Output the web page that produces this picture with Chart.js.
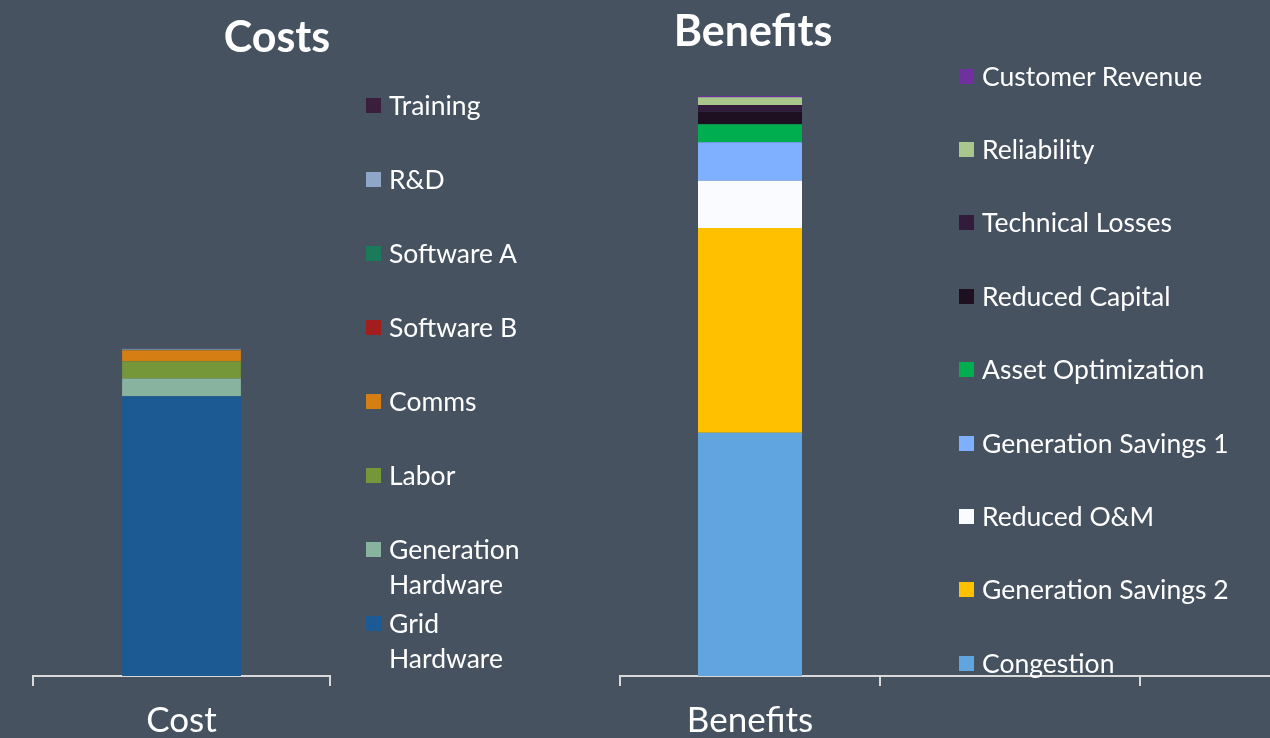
<!DOCTYPE html>
<html>
<head>
<meta charset="utf-8">
<title>Costs and Benefits</title>
<script src="https://cdn.jsdelivr.net/npm/chart.js@4.4.1/dist/chart.umd.min.js"></script>
<style>
  html, body {
    margin: 0;
    padding: 0;
    width: 1270px;
    height: 738px;
    overflow: hidden;
    background: #465260;
    font-family: Lato, "Open Sans", sans-serif;
  }
  canvas { position: absolute; top: 0; }
  #costsChart { left: 0; }
  #benefitsChart { left: 106px; }
  .legend { position: absolute; top: 0; color: #ffffff; font-size: 26.5px; }
  .legend-item { position: absolute; left: 0; display: flex; align-items: flex-start; line-height: 35px; }
  .legend-box { width: 15px; height: 15px; margin-top: 10px; margin-right: 8px; flex: none; }
  #costsLegend { left: 366px; }
  #costsLegend .legend-text { width: 150px; }
  #benefitsLegend { left: 959px; }
  #benefitsLegend .legend-text { white-space: nowrap; }
</style>
</head>
<body>
<canvas id="costsChart" width="554" height="756"></canvas>
<canvas id="benefitsChart" width="1294" height="756"></canvas>
<div id="costsLegend" class="legend"></div>
<div id="benefitsLegend" class="legend"></div>

<script>
// Costs (bottom of the stack first)
const costCategories = ["Cost"]
const costNames = ["Grid Hardware", "Generation Hardware", "Labor", "Comms", "Software B", "Software A", "R&D", "Training"]
const costValues = [28.03, 1.77, 1.73, 1.1, 0.03, 0.03, 0.08, 0.07]
const costColors = ["#1B5A93", "#87B39F", "#76963A", "#D47E14", "#A21D1D", "#1B7A5A", "#8EA6C8", "#3A1E3C"]

// Benefits (bottom of the stack first)
const benefitCategories = ["Benefits", "", ""]
const benefitNames = [
  "Congestion",
  "Generation Savings 2",
  "Reduced O&M",
  "Generation Savings 1",
  "Asset Optimization",
  "Reduced Capital",
  "Technical Losses",
  "Reliability",
  "Customer Revenue",
]
const benefitValues = [24.37, 20.5, 4.73, 3.87, 1.8, 1.26, 0.67, 0.77, 0.13]
const benefitColors = ["#60A5E0", "#FFC000", "#FAFBFF", "#7EB0FF", "#00AE4F", "#1E1020", "#321B3B", "#A9C68C", "#7030A0"]

const yMax = 60

const axisColor = "#D9D9D9"
const textColor = "#FFFFFF"
const fontFamily = "Lato, 'Open Sans', sans-serif"

function buildDatasets(names, values, colors) {
  return names.map((name, i) => ({
    label: name,
    data: [values[i]],
    backgroundColor: colors[i],
    borderWidth: 0,
    barPercentage: 0.4,
    categoryPercentage: 1,
  }))
}

// empty axis that only reserves room (left margin / legend space)
function spacerAxis(position, width) {
  return {
    type: "linear",
    display: width > 0,
    position: position,
    ticks: { display: false },
    grid: { display: false, drawTicks: false },
    border: { display: false },
    afterFit: (scale) => {
      scale.width = width
    },
  }
}

function buildChart(canvasId, categories, datasets, config) {
  const ctx = document.getElementById(canvasId).getContext("2d")
  return new Chart(ctx, {
    type: "bar",
    data: { labels: categories, datasets: datasets },
    options: {
      responsive: false,
      animation: false,
      layout: { padding: 0 },
      plugins: {
        legend: { display: false },
        tooltip: { enabled: false },
        title: {
          display: true,
          text: config.title,
          color: textColor,
          font: { family: fontFamily, size: 43, weight: "bold" },
          padding: config.titlePadding,
        },
      },
      scales: {
        x: {
          stacked: true,
          offset: true,
          grid: {
            display: true,
            offset: true,
            drawOnChartArea: false,
            drawTicks: true,
            tickLength: 10,
            color: axisColor,
            lineWidth: 2,
          },
          border: { display: true, color: axisColor, width: 2 },
          ticks: {
            color: textColor,
            font: { family: fontFamily, size: 35 },
            padding: 14,
            maxRotation: 0,
          },
        },
        y: {
          ...spacerAxis("left", config.leftSpace),
          stacked: true,
          min: 0,
          max: yMax,
        },
        yRight: spacerAxis("right", config.rightSpace),
      },
    },
  })
}

function buildLegend(containerId, names, colors, firstCenter, step) {
  const container = document.getElementById(containerId)
  container.innerHTML = ""
  // legend lists the top of the stack first
  for (let i = names.length - 1, row = 0; i >= 0; i--, row++) {
    const item = document.createElement("div")
    item.className = "legend-item"
    item.style.top = firstCenter - 17.5 + row * step + "px"
    item.innerHTML = `<span class="legend-box" style="background:${colors[i]}"></span><span class="legend-text"></span>`
    item.querySelector(".legend-text").textContent = names[i]
    container.appendChild(item)
  }
}

buildChart("costsChart", costCategories, buildDatasets(costNames, costValues, costColors), {
  title: "Costs",
  titlePadding: { top: 12, bottom: 13.4 },
  leftSpace: 33,
  rightSpace: 224,
})

buildChart("benefitsChart", benefitCategories, buildDatasets(benefitNames, benefitValues, benefitColors), {
  title: "Benefits",
  titlePadding: { top: 6, bottom: 19.4 },
  leftSpace: 514,
  rightSpace: 0,
})

buildLegend("costsLegend", costNames, costColors, 105, 74.1)
buildLegend("benefitsLegend", benefitNames, benefitColors, 76, 73.4)
</script>
</body>
</html>
